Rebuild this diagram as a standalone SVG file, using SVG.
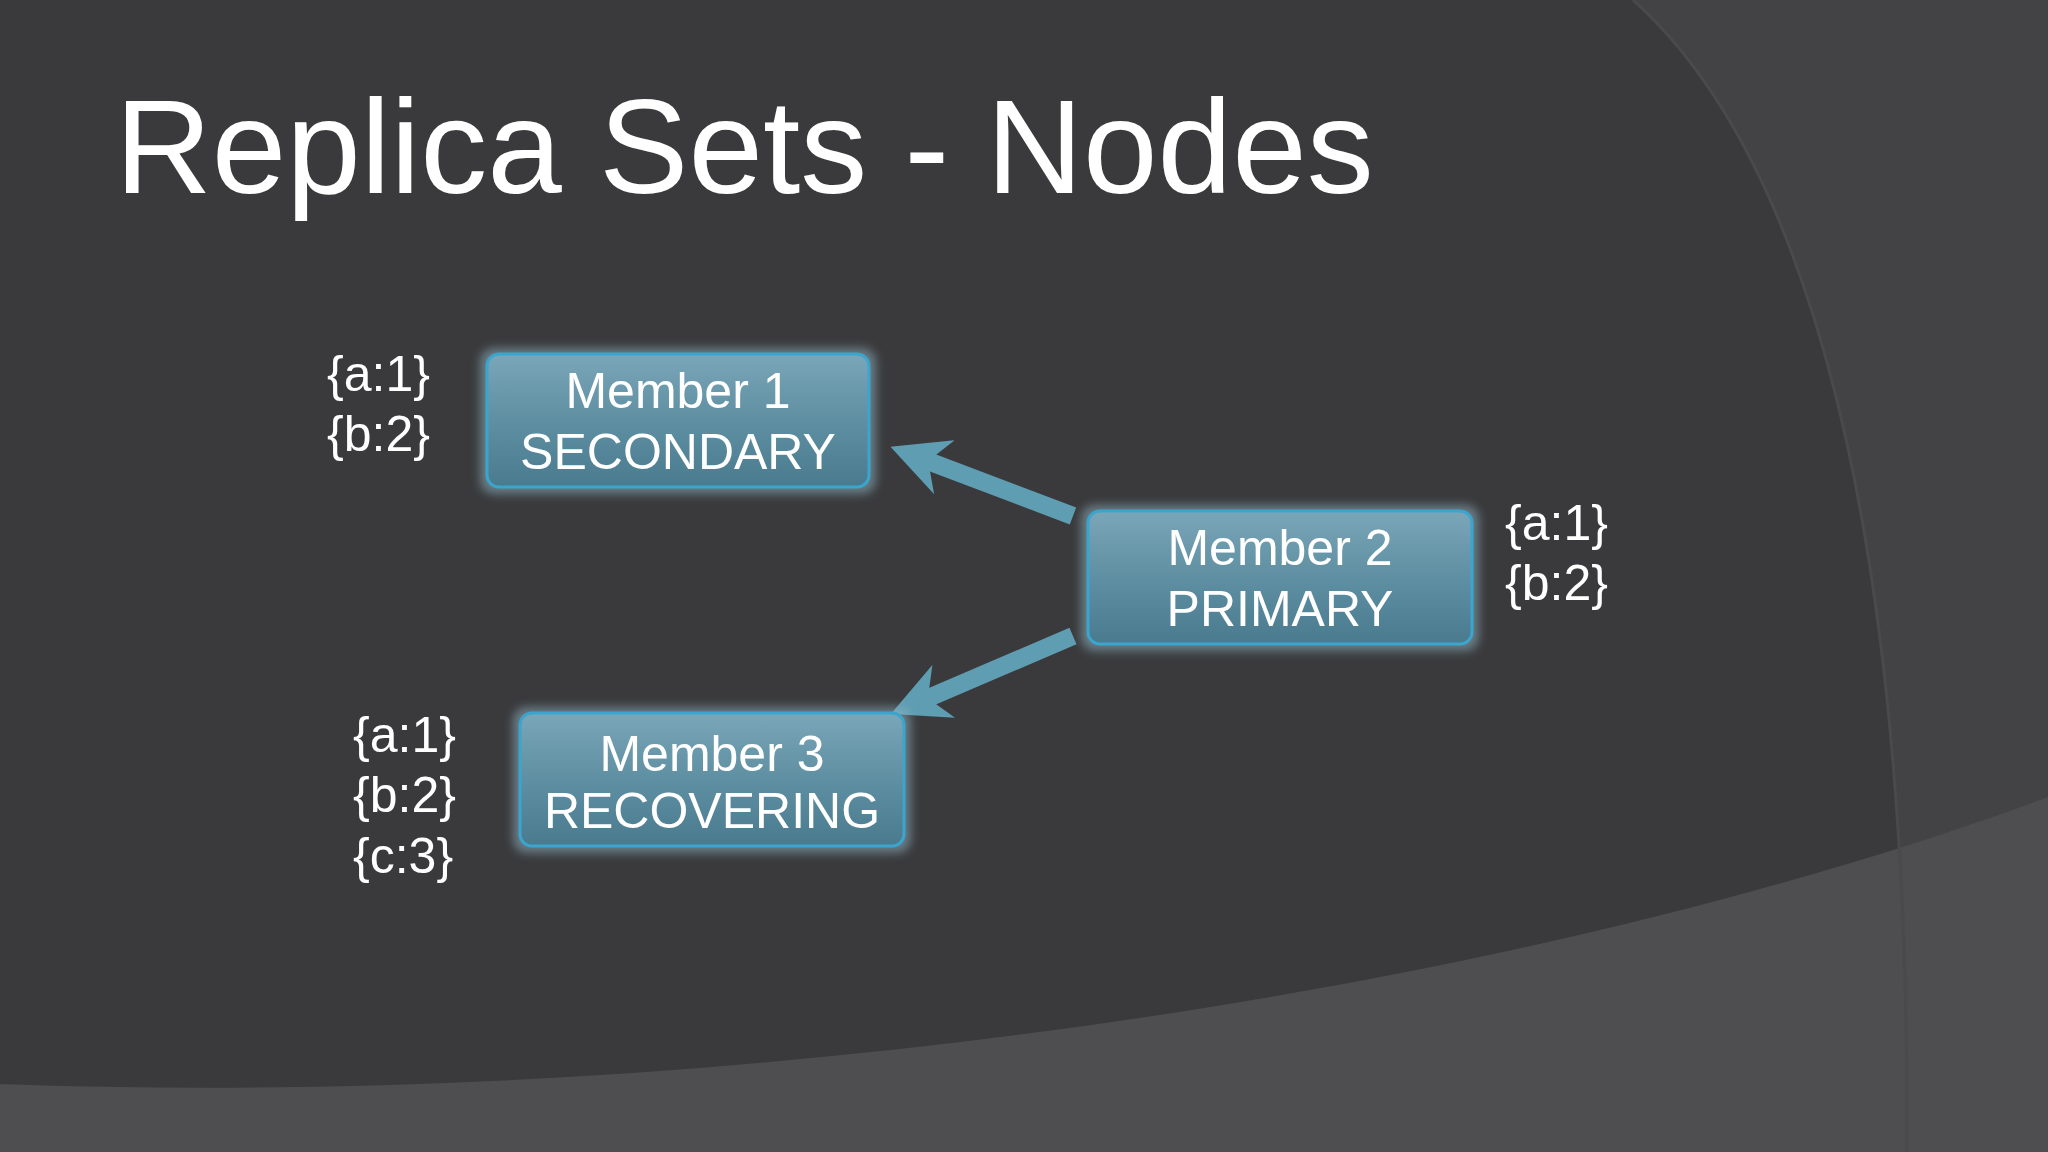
<svg xmlns="http://www.w3.org/2000/svg" width="2048" height="1152" viewBox="0 0 2048 1152">
<defs>
<linearGradient id="bx" x1="0" y1="0" x2="0" y2="1">
<stop offset="0" stop-color="#7aa6b8"/><stop offset="0.5" stop-color="#5f8fa2"/><stop offset="1" stop-color="#4a7a8d"/>
</linearGradient>
<filter id="glow" x="-10%" y="-15%" width="120%" height="130%"><feGaussianBlur stdDeviation="5"/></filter>
<marker id="ah" viewBox="0 0 10 10" refX="6" refY="5" markerWidth="3.2" markerHeight="3.2" orient="auto"><path d="M0,0 L10,5 L0,10 L3,5 Z" fill="#5f9db2"/></marker>
<style>
.t{font-family:"Liberation Sans",Arial,sans-serif;fill:#fff}
.nt{font-size:50px;text-anchor:middle}
.lb{font-size:50px}
.box{fill:url(#bx);stroke:#3aa5cf;stroke-width:3}
.gl{fill:#8fb4c2;opacity:0.55;filter:url(#glow)}
.ar{stroke:#5f9db2;stroke-width:18;fill:none;marker-end:url(#ah)}
</style>
</defs>
<rect width="2048" height="1152" fill="#3a3a3c"/>
<path d="M1633,0 C1800,150 1910,500 1907,1152 L2048,1152 L2048,0 Z" fill="#434245"/>
<path d="M0,1084 C700,1110 1500,1000 2048,797 L2048,1152 L0,1152 Z" fill="#4e4d50"/>
<path d="M1633,0 C1800,150 1910,500 1907,1152" fill="none" stroke="#4a494c" stroke-width="3"/>
<text class="t" x="115" y="193" font-size="134">Replica Sets - Nodes</text>
<g id="connectors">
<line class="ar" x1="1073" y1="516" x2="912" y2="455"/>
<line class="ar" x1="1073" y1="636" x2="912" y2="705"/>
</g>
<g id="member1">
<rect class="gl" x="480" y="348" width="396" height="146" rx="14"/>
<rect class="box" x="487" y="354" width="382" height="133" rx="12"/>
<text class="t nt" x="678" y="408">Member 1</text>
<text class="t nt" x="678" y="469">SECONDARY</text>
</g>
<g id="member2">
<rect class="gl" x="1081" y="505" width="398" height="146" rx="14"/>
<rect class="box" x="1088" y="511" width="384" height="133" rx="12"/>
<text class="t nt" x="1280" y="565">Member 2</text>
<text class="t nt" x="1280" y="626">PRIMARY</text>
</g>
<g id="member3">
<rect class="gl" x="513" y="707" width="398" height="146" rx="14"/>
<rect class="box" x="520" y="713" width="384" height="133" rx="12"/>
<text class="t nt" x="712" y="771">Member 3</text>
<text class="t nt" x="712" y="828">RECOVERING</text>
</g>
<g id="labels1"><text class="t lb" x="327" y="391">{a:1}</text><text class="t lb" x="327" y="451">{b:2}</text></g>
<g id="labels2"><text class="t lb" x="1505" y="540">{a:1}</text><text class="t lb" x="1505" y="600">{b:2}</text></g>
<g id="labels3"><text class="t lb" x="353" y="752">{a:1}</text><text class="t lb" x="353" y="812">{b:2}</text><text class="t lb" x="353" y="873">{c:3}</text></g>
</svg>
